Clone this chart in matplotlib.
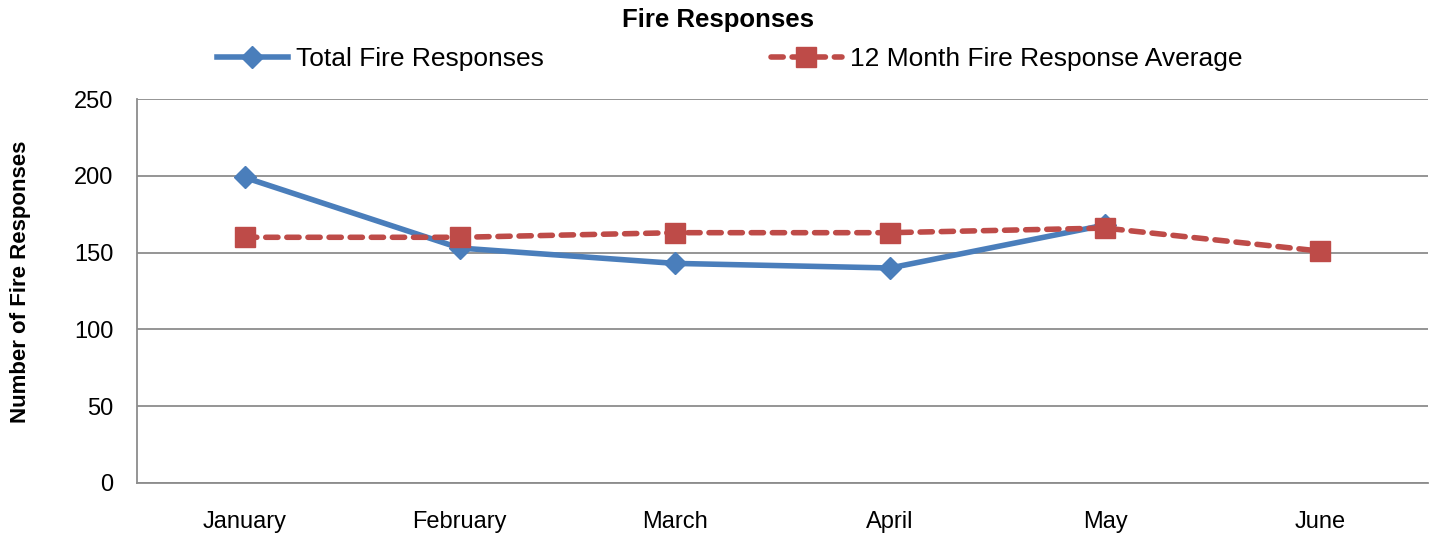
import matplotlib
matplotlib.use("Agg")
import matplotlib.pyplot as plt

# Chart data
months = ["January", "February", "March", "April", "May", "June"]
total_responses = [199, 153, 143, 140, 168]
avg_responses = [160, 160, 163, 163, 166, 151]

BLUE = "#4A7EBB"
RED = "#BE4B48"

plt.rcParams["font.family"] = ["Liberation Sans", "DejaVu Sans"]

fig = plt.figure(figsize=(14.35, 5.33), dpi=100)
ax = fig.add_axes([0.0955, 0.094, 0.8995, 0.720])

x_all = list(range(len(months)))
ax.plot(x_all[:len(total_responses)], total_responses, color=BLUE, linewidth=4,
        marker="D", markersize=11, label="Total Fire Responses", zorder=3)
ax.plot(x_all, avg_responses, color=RED, linewidth=4, linestyle=(0, (2.2, 1.6)),
        dash_capstyle="round", marker="s", markersize=14,
        label="12 Month Fire Response Average", zorder=4)

ax.set_xlim(-0.5, len(months) - 0.5)
ax.set_ylim(0, 250)
ax.set_yticks(range(0, 251, 50))
ax.set_xticks(x_all)
ax.set_xticklabels(months)
ax.tick_params(axis="both", length=0, labelsize=17)
ax.tick_params(axis="x", pad=20)
ax.tick_params(axis="y", pad=17)
ax.grid(axis="y", color="#8C8C8C", linewidth=1.3)
ax.set_axisbelow(True)
for side in ["top", "right"]:
    ax.spines[side].set_visible(False)
for side in ["left", "bottom"]:
    ax.spines[side].set_color("#8C8C8C")
    ax.spines[side].set_linewidth(1.3)

ax.set_ylabel("Number of Fire Responses", fontsize=16, fontweight="bold")
ax.yaxis.set_label_coords(-0.082, 0.525)
fig.suptitle("Fire Responses", fontsize=18.5, fontweight="bold", y=0.985)

ax.legend(loc="lower center", bbox_to_anchor=(0.459, 1.045), ncol=2, frameon=False,
          fontsize=19, handlelength=2.7, columnspacing=8.6, handletextpad=0.3,
          borderaxespad=0)

plt.savefig("out.png", dpi=100)
plt.close(fig)
